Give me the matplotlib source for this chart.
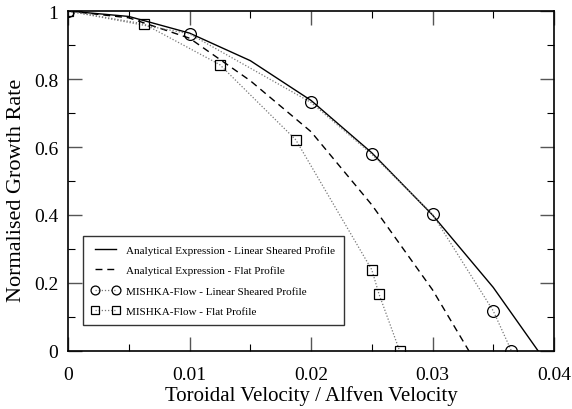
import matplotlib

matplotlib.use("Agg")
import matplotlib.pyplot as plt
from matplotlib.ticker import FixedLocator, MultipleLocator

plt.rcParams["font.family"] = ["Liberation Serif", "DejaVu Serif"]
plt.rcParams["xtick.direction"] = "in"
plt.rcParams["ytick.direction"] = "in"

# analytical expression, linear sheared profile
v_lin = [0.0, 0.005, 0.01, 0.015, 0.02, 0.025, 0.03, 0.035, 0.0387]
g_lin = [1.0, 0.984, 0.935, 0.854, 0.737, 0.583, 0.40, 0.187, 0.0]

# analytical expression, flat profile
v_flat = [0.0, 0.005, 0.01, 0.015, 0.02, 0.025, 0.03, 0.033]
g_flat = [1.0, 0.98, 0.92, 0.795, 0.645, 0.43, 0.18, 0.0]

# MISHKA-Flow, linear sheared profile
v_mlin = [0.0, 0.01, 0.02, 0.025, 0.03, 0.035, 0.0365]
g_mlin = [1.0, 0.933, 0.731, 0.579, 0.402, 0.118, 0.0]

# MISHKA-Flow, flat profile
v_mflat = [0.0, 0.00625, 0.0125, 0.01875, 0.025, 0.0256, 0.0273]
g_mflat = [1.0, 0.962, 0.842, 0.621, 0.239, 0.167, 0.0]

fig = plt.figure(figsize=(5.72, 4.10), dpi=100)
ax = fig.add_axes([0.119, 0.1415, 0.8495, 0.8292])

ax.plot(v_lin, g_lin, color="black", lw=1.0,
        label="Analytical Expression - Linear Sheared Profile")
ax.plot(v_flat, g_flat, color="black", lw=1.0, linestyle=(0, (5, 3.5)),
        label="Analytical Expression - Flat Profile")
ax.plot(v_mlin, g_mlin, color="#777777", lw=0.9, linestyle=(0, (1, 1.5)),
        marker="o", markersize=8.5, markerfacecolor="none",
        markeredgecolor="black", markeredgewidth=0.9,
        label="MISHKA-Flow - Linear Sheared Profile")
ax.plot(v_mflat, g_mflat, color="#777777", lw=0.9, linestyle=(0, (1, 1.5)),
        marker="s", markersize=7.5, markerfacecolor="none",
        markeredgecolor="black", markeredgewidth=0.9,
        label="MISHKA-Flow - Flat Profile")

ax.set_xlim(0, 0.04)
ax.set_ylim(0, 1)
ax.xaxis.set_major_locator(FixedLocator([0, 0.01, 0.02, 0.03, 0.04]))
ax.xaxis.set_minor_locator(MultipleLocator(0.005))
ax.yaxis.set_major_locator(FixedLocator([0, 0.2, 0.4, 0.6, 0.8, 1.0]))
ax.yaxis.set_minor_locator(MultipleLocator(0.1))
ax.set_xticklabels(["0", "0.01", "0.02", "0.03", "0.04"])
ax.set_yticklabels(["0", "0.2", "0.4", "0.6", "0.8", "1"])
ax.tick_params(which="both", top=True, right=True, labelsize=14)
ax.tick_params(axis="x", which="major", pad=11)
ax.tick_params(axis="y", which="major", pad=7)
ax.tick_params(which="major", length=10, width=1.0, color="#555555")
ax.tick_params(which="minor", length=5, width=0.8)
for s in ax.spines.values():
    s.set_linewidth(1.2)

ax.set_xlabel("Toroidal Velocity / Alfven Velocity", fontsize=15, labelpad=1)
ax.set_ylabel("Normalised Growth Rate", fontsize=16)
ax.yaxis.set_label_coords(-0.087, 0.474)

leg = ax.legend(loc="lower left", bbox_to_anchor=(0.03, 0.077), fontsize=8,
                frameon=True, fancybox=False, edgecolor="black",
                numpoints=2, markerscale=0.75, handlelength=2.5,
                handletextpad=0.6, borderpad=0.8, labelspacing=0.95,
                borderaxespad=0)
leg.get_frame().set_linewidth(1.0)

fig.savefig("out.png", dpi=100)
